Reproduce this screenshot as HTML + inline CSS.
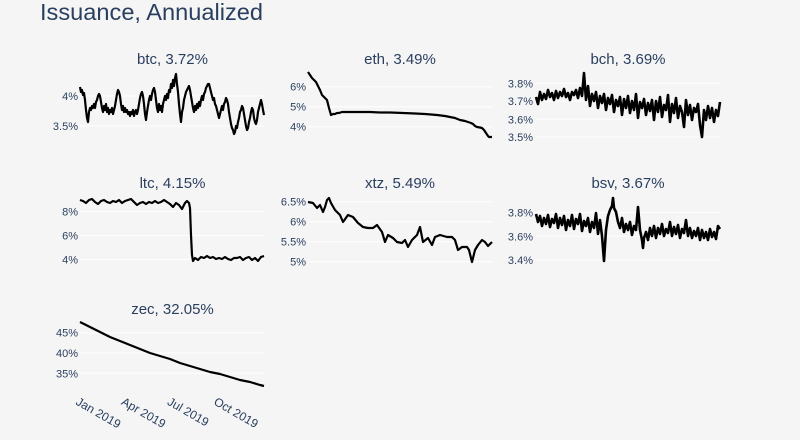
<!DOCTYPE html>
<html><head><meta charset="utf-8"><style>
html,body{margin:0;padding:0;background:#f5f5f5;}
svg{display:block;}
text{font-family:"Liberation Sans",Arial,sans-serif;fill:#2a3f5f;}
.t{font-size:11px;text-anchor:end;}
.st{font-size:15px;text-anchor:middle;}
.g{stroke:#ffffff;stroke-width:1;}
.l{fill:none;stroke:#000;stroke-width:2.2;stroke-linejoin:round;}
.n{stroke-width:2.6;}
</style></head><body>
<svg width="800" height="440" viewBox="0 0 800 440" xmlns="http://www.w3.org/2000/svg">
<rect width="800" height="440" fill="#f5f5f5"/>
<text x="40" y="20" style="font-size:23.5px" textLength="223" lengthAdjust="spacingAndGlyphs">Issuance, Annualized</text>

<!-- btc -->
<text class="st" x="172.5" y="64">btc, 3.72%</text>
<line class="g" x1="80" x2="265" y1="96" y2="96"/><line class="g" x1="80" x2="265" y1="126" y2="126"/>
<text class="t" x="78" y="100">4%</text><text class="t" x="78" y="130">3.5%</text>
<polyline class="l" points="80,87 81,92 82,90 83,95 84,93 85,100 86,110 87,118 88,122 89,112 90,108 91,110 92,106 93,108 94,104 95,108 96,102 97,100 98,96 99,94 100,96 101,102 102,108 103,112 104,106 105,110 106,104 107,112 108,108 109,114 110,110 111,112 112,108 113,114 114,110 115,106 116,100 117,94 118,90 119,92 120,96 121,104 122,110 123,106 124,112 125,108 126,112 127,110 128,114 129,112 130,116 131,112 132,114 133,110 134,116 135,112 136,110 137,114 138,110 139,104 140,98 141,94 142,92 143,96 144,104 145,114 146,120 147,112 148,106 149,100 150,96 151,100 152,94 153,90 154,88 155,92 156,100 157,108 158,112 159,104 160,110 161,106 162,112 163,104 164,100 165,96 166,100 167,94 168,98 169,90 170,92 171,84 172,88 173,80 174,86 175,78 176,74 177,84 178,92 179,104 180,114 181,122 182,112 183,108 184,100 185,96 186,92 187,90 188,88 189,86 190,90 191,96 192,102 193,108 194,112 195,106 196,110 197,104 198,108 199,102 200,106 201,100 202,96 203,100 204,94 205,92 206,88 207,86 208,84 209,84 210,88 211,92 212,96 213,100 214,98 215,104 216,106 217,110 218,114 219,118 220,114 221,110 222,106 223,110 224,104 225,102 226,98 227,100 228,104 229,112 230,118 231,124 232,128 233,130 234,134 235,132 236,126 237,128 238,122 239,118 240,112 241,110 242,106 243,108 244,114 245,120 246,126 247,130 248,128 249,122 250,118 251,112 252,108 253,110 254,118 255,122 256,124 257,120 258,112 259,108 260,104 261,100 262,104 263,110 264,115"/>

<!-- eth -->
<text class="st" x="400" y="64">eth, 3.49%</text>
<line class="g" x1="308" x2="492" y1="86.7" y2="86.7"/><line class="g" x1="308" x2="492" y1="106.7" y2="106.7"/><line class="g" x1="308" x2="492" y1="126.7" y2="126.7"/>
<text class="t" x="306" y="90.7">6%</text><text class="t" x="306" y="110.7">5%</text><text class="t" x="306" y="130.7">4%</text>
<polyline class="l" points="308,72 312,78 314,80 316,82 318,86 320,90 322,95 324,97 327,100 329,108 331,115 333,114 335,114 337,113 339,113 342,112 350,112 360,112 370,112 380,112.5 390,112.5 403,113 415,113.5 425,114 437,115 445,116 450,117 455,118 460,120 465,121 468,122 471,123 473,124 475,126 477,127 480,127.5 482,128 484,130 486,133 488,136 489,137 492,137"/>

<!-- bch -->
<text class="st" x="628" y="64">bch, 3.69%</text>
<line class="g" x1="536" x2="720" y1="83.3" y2="83.3"/><line class="g" x1="536" x2="720" y1="101" y2="101"/><line class="g" x1="536" x2="720" y1="119.3" y2="119.3"/><line class="g" x1="536" x2="720" y1="137" y2="137"/>
<text class="t" x="533" y="87.3">3.8%</text><text class="t" x="533" y="105">3.7%</text><text class="t" x="533" y="123.3">3.6%</text><text class="t" x="533" y="141">3.5%</text>
<polyline class="l n" points="536,97 538,104 540,92 542,100 544,94 546,99 548,90 550,97 552,93 554,100 556,91 558,98 560,92 562,96 564,89 566,97 568,93 570,100 572,92 574,95 576,90 578,98 580,88 582,96 584,73 586,100 588,86 590,106 592,94 594,101 596,92 598,108 600,96 602,103 604,94 606,110 608,98 610,104 612,95 614,112 616,100 618,106 620,97 622,115 624,99 626,108 628,96 630,113 632,101 634,110 636,94 638,118 640,102 642,108 644,99 646,115 648,103 650,111 652,100 654,120 656,101 658,112 660,97 662,117 664,105 666,110 668,95 670,122 672,104 674,113 676,98 678,118 680,106 682,112 684,127 686,100 688,115 690,105 692,120 694,108 696,112 698,104 700,125 702,137 704,110 706,120 708,106 710,118 712,108 714,122 716,110 718,116 720,102"/>

<!-- ltc -->
<text class="st" x="172.5" y="188">ltc, 4.15%</text>
<line class="g" x1="80" x2="265" y1="211.5" y2="211.5"/><line class="g" x1="80" x2="265" y1="235.5" y2="235.5"/><line class="g" x1="80" x2="265" y1="259.5" y2="259.5"/>
<text class="t" x="78" y="215.5">8%</text><text class="t" x="78" y="239.5">6%</text><text class="t" x="78" y="263.5">4%</text>
<polyline class="l" points="80,200 83,201 86,203 89,200 92,199 95,202 98,204 101,201 104,200 107,202 110,203 113,201 116,202 119,200 122,203 125,201 128,200 131,199 134,202 137,205 140,203 143,202 146,204 149,202 152,203 155,201 158,203 161,202 164,200 167,202 170,204 173,207 176,203 179,205 182,209 183,207 185,203 187,201 189,203 190,208 191,235 192,255 193,261 195,258 198,260 201,257 204,258 207,256 210,258 213,257 216,259 219,258 222,259 225,257 228,259 231,260 234,258 237,258 240,257 243,260 246,258 249,257 252,260 255,258 258,261 261,257 264,256"/>

<!-- xtz -->
<text class="st" x="400" y="188">xtz, 5.49%</text>
<line class="g" x1="308" x2="492" y1="201.7" y2="201.7"/><line class="g" x1="308" x2="492" y1="221.7" y2="221.7"/><line class="g" x1="308" x2="492" y1="241.7" y2="241.7"/><line class="g" x1="308" x2="492" y1="261.7" y2="261.7"/>
<text class="t" x="306" y="205.7">6.5%</text><text class="t" x="306" y="225.7">6%</text><text class="t" x="306" y="245.7">5.5%</text><text class="t" x="306" y="265.7">5%</text>
<polyline class="l" points="308,202 313,203 317,208 320,205 323,212 325,207 327,200 329,198 331,203 335,210 340,215 343,222 348,215 353,217 358,223 363,227 368,228 373,228 377,225 382,232 385,242 388,235 393,238 397,242 402,243 405,240 408,247 412,240 417,235 420,227 423,242 428,238 432,245 435,237 440,235 447,237 452,237 455,240 458,250 462,247 467,247 469,250 472,262 475,250 478,245 482,240 485,242 488,246 492,242"/>

<!-- bsv -->
<text class="st" x="628" y="188">bsv, 3.67%</text>
<line class="g" x1="536" x2="720" y1="212.5" y2="212.5"/><line class="g" x1="536" x2="720" y1="236.3" y2="236.3"/><line class="g" x1="536" x2="720" y1="260" y2="260"/>
<text class="t" x="533" y="216.5">3.8%</text><text class="t" x="533" y="240.3">3.6%</text><text class="t" x="533" y="264">3.4%</text>
<polyline class="l n" points="536,214 538,222 540,216 542,226 544,218 546,224 548,215 550,227 552,219 554,223 556,214 558,228 560,218 562,225 564,216 566,230 568,220 570,226 572,215 574,229 576,219 578,224 580,214 582,231 584,221 586,226 588,218 590,232 592,222 594,228 596,213 598,234 600,220 602,236 604,261 606,230 608,216 610,210 612,206 613,198 614,208 616,212 618,222 620,228 622,218 624,232 626,224 628,230 630,222 632,235 634,226 636,230 638,207 640,230 642,240 643,248 644,238 646,232 648,240 650,228 652,236 654,226 656,238 658,228 660,234 662,224 664,236 666,229 668,233 670,222 672,236 674,227 676,234 678,225 680,238 682,229 684,233 686,220 688,236 690,228 692,238 694,231 696,236 698,228 700,240 702,230 704,238 706,232 708,240 710,229 712,237 714,232 716,239 718,226 720,229"/>

<!-- zec -->
<text class="st" x="172.5" y="314">zec, 32.05%</text>
<line class="g" x1="80" x2="265" y1="332.7" y2="332.7"/><line class="g" x1="80" x2="265" y1="353" y2="353"/><line class="g" x1="80" x2="265" y1="373.3" y2="373.3"/>
<text class="t" x="78" y="336.7">45%</text><text class="t" x="78" y="357">40%</text><text class="t" x="78" y="377.3">35%</text>
<polyline class="l" points="80,322 90,327 100,332 110,337 120,341 130,345 140,349 150,353 160,356 170,359 180,363 190,366 200,369 210,372 220,374 230,377 240,380 250,382 260,385 264,386"/>
<g style="font-size:12px">
<text x="75" y="404" transform="rotate(30 75 404)">Jan 2019</text>
<text x="120.5" y="404" transform="rotate(30 120.5 404)">Apr 2019</text>
<text x="166.5" y="404" transform="rotate(30 166.5 404)">Jul 2019</text>
<text x="213" y="404" transform="rotate(30 213 404)">Oct 2019</text>
</g>
</svg>
</body></html>
